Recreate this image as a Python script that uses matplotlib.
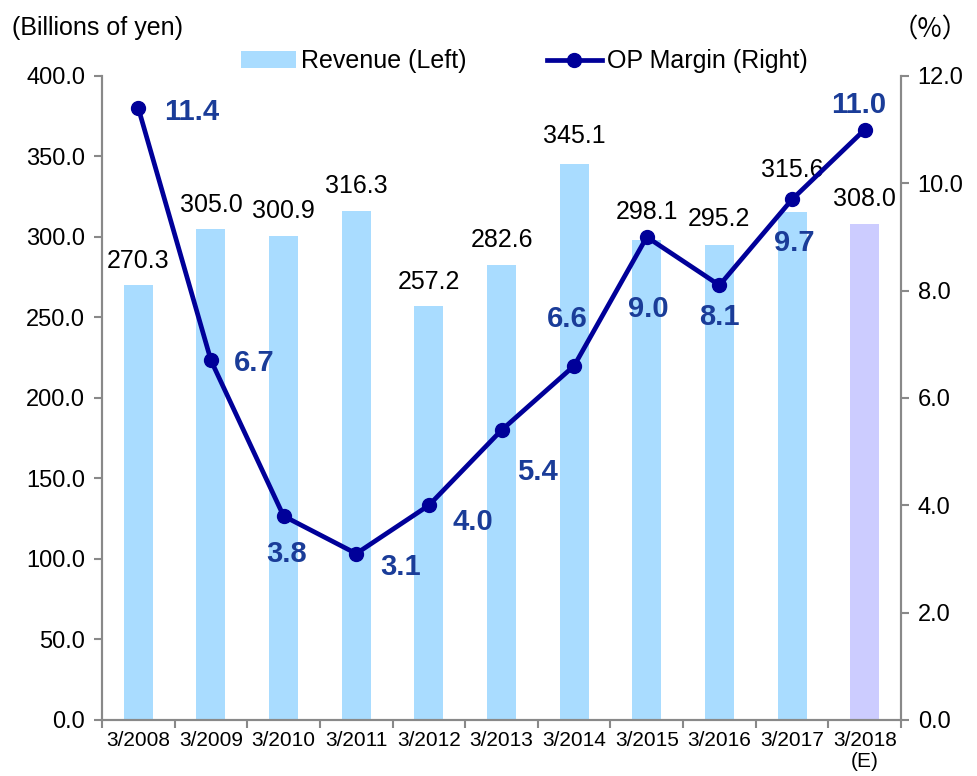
import numpy as np
import matplotlib.pyplot as plt

plt.rcParams['font.family'] = ['Liberation Sans', 'DejaVu Sans']

# data
years = ["3/2008", "3/2009", "3/2010", "3/2011", "3/2012", "3/2013",
         "3/2014", "3/2015", "3/2016", "3/2017", "3/2018\n(E)"]
revenue = [270.3, 305.0, 300.9, 316.3, 257.2, 282.6, 345.1, 298.1, 295.2, 315.6, 308.0]
op_margin = [11.4, 6.7, 3.8, 3.1, 4.0, 5.4, 6.6, 9.0, 8.1, 9.7, 11.0]

# label placement (pixels) - layout only
rev_gap = [17, 17, 18, 18, 17, 18, 21, 21, 19, 35, 18]
op_off = [(53, -4), (43, -3), (3, -38), (44, -13), (44, -17), (36, -42),
          (-7, 47), (2, -72), (0, -32), (2, -44), (-6, 25)]

bar_col = "#a9dcff"
est_col = "#ccccff"
line_col = "#000099"
lab_col = "#1a3c98"
spine_col = "#898989"

fig = plt.figure(figsize=(9.78, 7.76), dpi=100)
ax = fig.add_axes([0.1043, 0.0722, 0.817, 0.8299])
ax2 = ax.twinx()

x = np.arange(len(years))
colors = [bar_col] * (len(years) - 1) + [est_col]
bars = ax.bar(x, revenue, width=0.4, color=colors, zorder=1, label="Revenue (Left)")
for i, v in enumerate(revenue):
    ax.annotate(f"{v:.1f}", (x[i], v), xytext=(0, rev_gap[i]), textcoords="offset pixels",
                ha="center", va="baseline", fontsize=18, color="black")

ax.set_xlim(-0.5, len(years) - 0.5)
ax.set_ylim(0, 400)
ax.set_yticks(np.arange(0, 401, 50))
ax.set_yticklabels([f"{t:.1f}" for t in np.arange(0, 401, 50)])
ax.set_xticks(x)
ax.set_xticklabels(years, fontsize=15, linespacing=1.1)
ax.set_xticks(np.arange(-0.5, len(years), 1), minor=True)
ax.tick_params(axis="x", which="major", length=0, pad=8)
ax.tick_params(axis="x", which="minor", length=6, width=1.5, color=spine_col, direction="out")
ax.tick_params(axis="y", length=6, width=1.5, color=spine_col, labelsize=17, pad=6)

ax2.plot(x, op_margin, color=line_col, lw=3.4, marker="o", markersize=10,
         zorder=3, label="OP Margin (Right)")
for i, v in enumerate(op_margin):
    ax2.annotate(f"{v:.1f}", (x[i], v), xytext=op_off[i], textcoords="offset pixels",
                 ha="center", va="center", fontsize=21, fontweight="bold", color=lab_col)
ax2.set_ylim(0, 12)
ax2.set_yticks(np.arange(0, 12.1, 2))
ax2.set_yticklabels([f"{t:.1f}" for t in np.arange(0, 12.1, 2)])
ax2.tick_params(axis="y", length=6, width=1.5, color=spine_col, labelsize=17, pad=6)

for a in (ax, ax2):
    a.spines["top"].set_visible(False)
    for s in ("left", "right", "bottom"):
        a.spines[s].set_color(spine_col)
        a.spines[s].set_linewidth(1.5)

fig.text(0.012, 0.964, "(Billions of yen)", fontsize=18, ha="left", va="center")
fig.text(0.99, 0.962, "（%）", fontsize=19, ha="right", va="center",
         family=["Noto Sans CJK JP", "DejaVu Sans"])

h1, l1 = ax.get_legend_handles_labels()
h2, l2 = ax2.get_legend_handles_labels()
leg = fig.legend([h1[0], h2[0]], [l1[0], l2[0]], loc="center", ncol=2,
                 bbox_to_anchor=(0.536, 0.921), frameon=False, fontsize=18,
                 handlelength=2.2, handletextpad=0.2, columnspacing=3.2)

fig.savefig("out.png", dpi=100)
